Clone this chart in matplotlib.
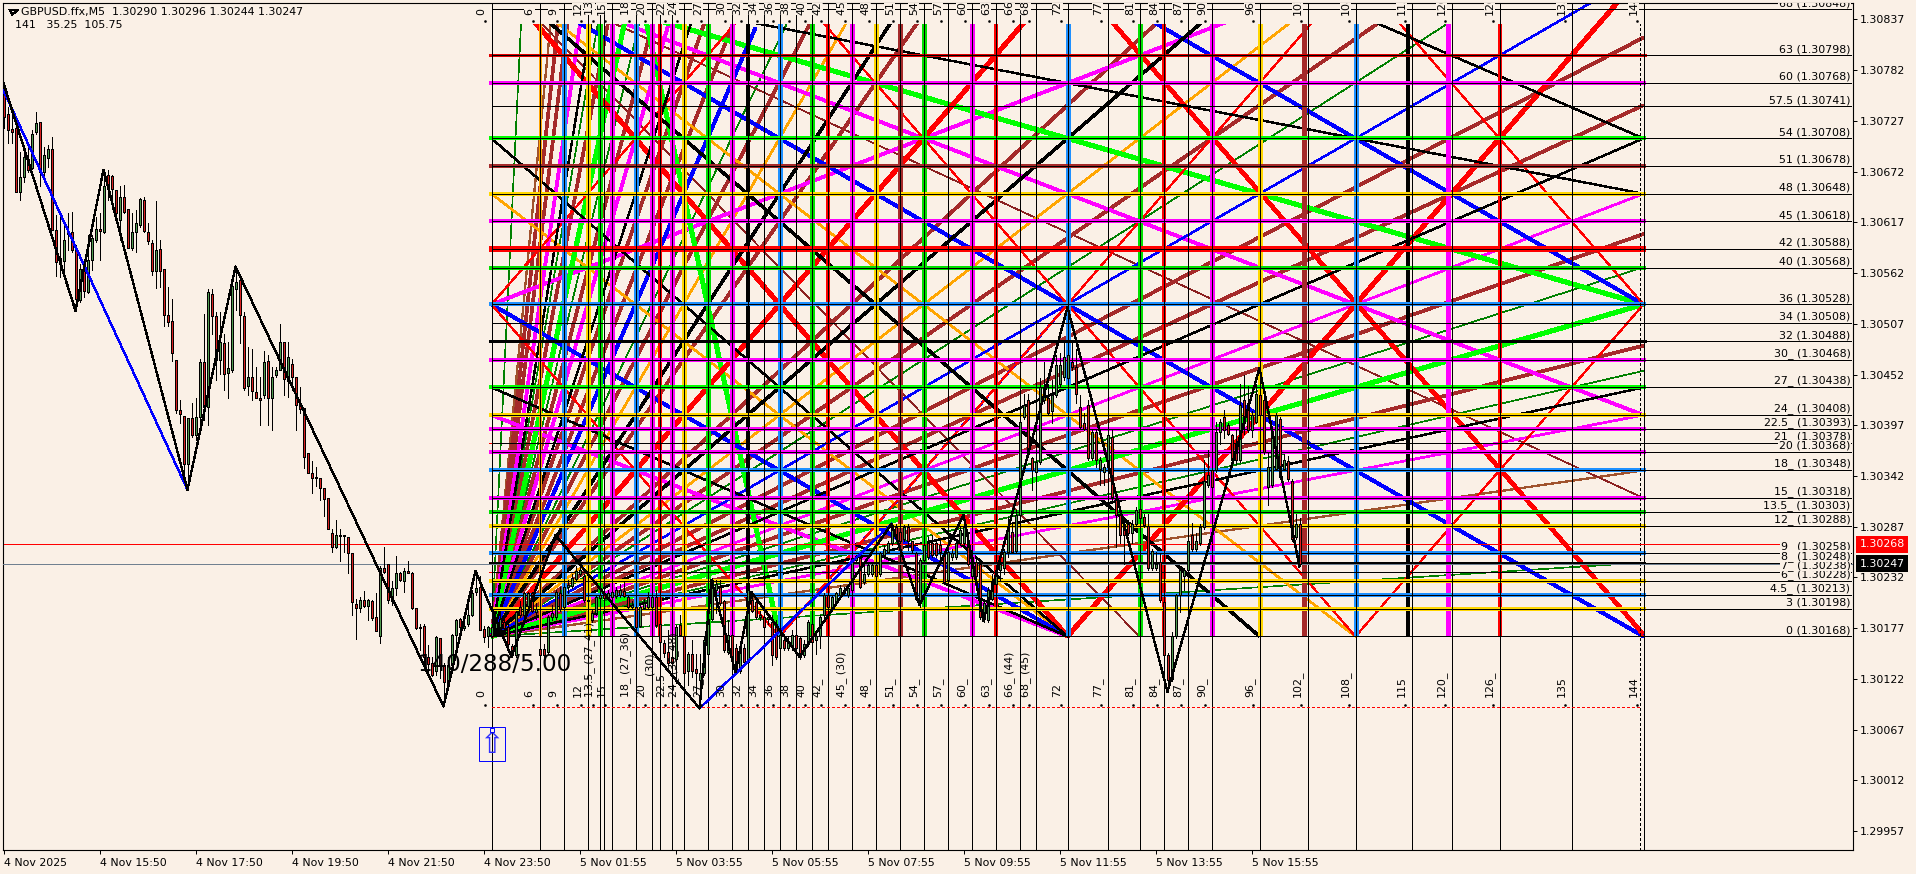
import numpy as np
import matplotlib
matplotlib.use('Agg')
import matplotlib.pyplot as plt
from matplotlib.patches import Rectangle

plt.rcParams['font.family'] = ['DejaVu Sans']
plt.rcParams['lines.antialiased'] = False

BG = '#FAF0E6'
FS = 7.9

# Candles, price in points above 1.30000
opens = [757,735,718,719,650,666,686,676,715,726,
         672,687,697,609,578,575,604,606,587,533,
         566,542,576,598,610,606,668,667,652,620,
         645,632,589,606,614,641,606,595,564,588,
         566,516,510,468,413,407,355,405,386,406,
         466,417,539,515,468,486,454,457,545,554,
         515,440,449,433,426,430,467,426,451,457,
         487,445,463,449,421,416,367,345,341,340,
         329,318,280,265,278,278,276,258,203,199,
         208,201,206,189,168,242,246,206,220,237,
         228,239,237,199,178,179,146,139,131,166,
         137,117,137,169,187,177,182,191,216,222,
         176,168,
         168,177,178,184,178,158,148,200,
         191,201,215,195,154,154,151,189,189,215,
         200,222,223,230,236,234,208,186,193,210,
         215,210,211,212,213,217,211,200,200,179,
         199,200,200,211,182,161,151,146,144,180,
         168,130,149,133,121,128,149,187,218,222,
         206,151,169,155,130,155,140,207,205,189,
         189,187,184,182,155,164,155,157,169,166,
         148,160,182,164,168,191,213,198,204,213,
         218,213,218,251,253,227,236,236,245,236,
         256,260,269,287,281,274,287,271,258,206,
         251,269,269,269,267,258,229,254,254,269,
         269,269,233,249,247,187,186,209,225,240,
         242,260,281,261,300,406,424,361,346,357,
         424,426,412,430,442,449,448,466,460,417,
         399,419,361,390,350,346,352,384,318,300,
         290,290,280,290,306,297,288,242,242,249,
         205,148,122,168,213,234,240,278,263,269,
         287,332,348,348,390,406,397,386,377,359,
         424,421,392,401,430,424,330,332,350,404,
         350,358,337,276,290]
closes = [731,717,715,650,666,688,674,713,725,672,
          690,696,609,574,575,598,606,587,534,566,
          543,576,600,610,608,656,654,653,627,645,
          628,589,607,616,642,608,597,564,587,564,
          516,509,475,413,409,355,405,386,406,466,
          417,541,515,468,487,453,459,548,552,516,
          437,449,434,427,424,466,426,449,457,487,
          447,471,449,419,415,363,345,340,340,329,
          317,285,265,278,277,277,258,205,199,208,
          201,207,188,174,242,238,207,220,237,229,
          239,237,199,177,177,146,138,126,167,137,
          119,137,170,186,178,179,191,215,221,175,
          167,178,
          178,186,187,177,160,148,195,191,
          215,215,196,198,148,148,189,193,216,198,
          222,224,231,239,240,207,206,193,211,213,
          210,215,216,218,218,212,200,202,178,200,
          204,211,211,180,162,150,139,139,178,169,
          128,149,130,128,128,164,187,229,225,204,
          153,169,142,129,155,140,218,196,189,191,
          178,189,148,146,169,155,162,169,155,146,
          160,184,162,168,189,213,200,211,215,221,
          215,220,253,254,222,236,245,245,234,258,
          263,269,289,276,272,287,271,262,209,251,
          267,254,256,256,260,227,260,258,269,283,
          287,247,254,233,189,204,218,227,240,247,
          260,285,260,300,401,419,366,348,357,439,
          437,410,430,462,462,471,473,460,431,395,
          393,361,390,359,359,352,386,319,300,278,
          278,280,290,305,296,289,242,261,247,207,
          148,121,168,213,240,240,271,263,271,287,
          337,343,330,390,401,392,388,359,359,419,
          399,392,408,431,408,368,352,388,408,341,
          359,339,274,290,247]
highs = [768,742,735,721,693,693,699,717,737,726,
         699,701,710,625,623,618,627,628,592,572,
         576,603,603,623,627,674,674,668,652,656,
         657,632,627,630,643,645,616,598,640,598,
         566,547,534,468,424,407,405,421,426,469,
         518,545,545,520,520,496,487,551,569,558,
         520,482,480,460,449,478,473,460,460,507,
         487,487,469,449,439,416,367,358,352,340,
         329,318,285,294,284,278,276,258,209,211,
         217,209,208,215,244,265,246,228,255,238,
         242,250,238,199,181,181,159,146,168,166,
         139,146,171,187,188,188,202,218,238,233,
         179,179,
         184,189,193,189,182,160,196,206,
         216,216,216,204,178,160,191,202,218,222,
         229,229,236,244,251,236,215,197,213,216,
         216,218,220,222,225,227,213,206,207,202,
         209,216,215,218,193,164,175,153,180,191,
         169,151,164,149,149,168,218,231,229,229,
         207,186,175,160,158,160,229,216,209,196,
         193,193,191,186,175,169,168,175,173,168,
         164,186,193,175,191,215,215,213,216,224,
         222,222,254,256,254,245,249,247,247,260,
         267,271,290,290,283,289,290,272,260,253,
         269,276,278,274,274,260,262,263,274,287,
         298,280,263,252,251,205,222,236,243,254,
         263,298,290,305,408,431,431,363,370,448,
         466,442,446,473,475,486,486,486,480,430,
         410,424,393,393,363,355,392,392,319,301,
         294,294,294,308,308,301,301,263,260,258,
         207,150,173,214,243,242,274,291,280,290,
         359,370,350,401,404,413,399,388,393,442,
         451,440,412,442,459,428,368,390,410,406,
         366,364,339,301,296]
lows = [719,703,703,650,641,661,672,675,713,656,
        665,677,609,559,558,556,587,585,522,531,
        536,540,565,596,576,605,641,632,623,598,
        627,589,587,585,612,607,594,560,546,547,
        505,505,467,410,399,345,328,384,381,397,
        403,397,496,446,453,435,426,455,522,486,
        435,430,424,426,397,426,397,392,449,457,
        430,428,435,392,410,351,345,324,331,316,
        299,284,260,264,250,260,237,191,165,195,
        200,186,186,174,161,237,204,202,213,228,
        216,237,198,176,153,135,128,125,126,123,
        94,115,134,159,166,175,179,190,213,175,
        162,157,
        168,168,175,171,153,146,146,189,
        189,195,195,187,148,146,149,186,187,196,
        198,215,221,229,233,205,186,184,191,202,
        207,207,210,210,211,211,198,198,177,178,
        198,198,198,178,160,146,137,135,117,168,
        106,115,124,106,90,126,148,186,193,202,
        151,149,131,128,128,139,139,195,187,186,
        168,182,137,144,153,153,153,153,153,144,
        146,158,160,149,155,189,193,196,202,211,
        213,211,216,249,220,225,233,234,227,234,
        254,258,267,274,269,271,262,260,207,200,
        249,252,254,254,252,225,211,251,252,267,
        267,245,229,218,187,184,184,207,214,229,
        236,254,258,258,298,404,365,327,337,355,
        421,408,399,428,439,446,421,457,421,393,
        392,359,359,352,332,332,330,316,265,269,
        247,278,269,289,287,287,240,240,240,205,
        124,108,120,166,195,218,231,261,261,267,
        285,330,328,346,377,383,386,357,355,357,
        388,390,384,399,406,366,310,330,348,339,
        348,337,272,274,244]

# Zigzags, (bar, points)
zigzag_bars = [0,18,25,46,58,110,118,127,138,174,177,183,187,199,222,229,240,245,266,291,314,324]
zigzag_pts = [768,521,674,327,569,92,239,146,278,90,229,129,216,146,290,202,300,185,525,108,459,244]
blue_bars_a = [0,46]
blue_pts_a = [760,327]
blue_bars_b = [174,222]
blue_pts_b = [90,290]

title_text = 'GBPUSD.ffx,M5  1.30290 1.30296 1.30244 1.30247'
info_text = '141   35.25  105.75'

y_ticks = [1.30837,1.30782,1.30727,1.30672,1.30617,1.30562,1.30507,1.30452,1.30397,
           1.30342,1.30287,1.30232,1.30177,1.30122,1.30067,1.30012,1.29957]
time_bars = [0,24,48,72,96,120,144,168,192,216,240,264,288,312]
time_labels = ['4 Nov 2025','4 Nov 15:50','4 Nov 17:50','4 Nov 19:50','4 Nov 21:50','4 Nov 23:50',
               '5 Nov 01:55','5 Nov 03:55','5 Nov 05:55','5 Nov 07:55','5 Nov 09:55','5 Nov 11:55',
               '5 Nov 13:55','5 Nov 15:55']

# Price levels of the box
level_vals = [0,3,4.5,6,7,8,9,12,13.5,15,18,20,21,22.5,24,27,30,32,34,36,40,42,45,48,51,54,57.5,60,63,68]
level_names = ['0','3','4.5_','6_','7_','8_','9_','12_','13.5_','15_','18_','20','21_','22.5_','24_',
               '27_','30_','32','34','36','40','42','45','48','51','54','57.5','60','63','68']
level_prices = [1.30168,1.30198,1.30213,1.30228,1.30238,1.30248,1.30258,1.30288,1.30303,1.30318,
                1.30348,1.30368,1.30378,1.30393,1.30408,1.30438,1.30468,1.30488,1.30508,1.30528,
                1.30568,1.30588,1.30618,1.30648,1.30678,1.30708,1.30741,1.30768,1.30798,1.30848]
level_colors = {3:'#FFD700',4.5:'#1E90FF',6:'#FFD700',7:'#FF0000',8:'#000000',9:'#1E90FF',12:'#FFD700',
                13.5:'#00E000',15:'#FF00FF',18:'#1E90FF',20:'#FF00FF',21:'#FF0000',22.5:'#FF00FF',
                24:'#FFD700',27:'#00FF00',30:'#FF00FF',32:'#000000',36:'#1E90FF',40:'#00E000',
                42:'#FF0000',45:'#FF00FF',48:'#FFD700',51:'#A52A2A',54:'#00FF00',60:'#FF00FF',63:'#E00000'}
level_widths = {7:0.7,8:1.1,15:1.5,20:1.5,21:0.6,22.5:1.5,30:1.5,32:1.0,42:3.2,45:1.5,60:1.5,63:0.9}

# Time columns of the box
col_vals = [0,6,9,12,13.5,14,15,18,20,21,22.5,24,27,30,32,34,36,38,40,42,45,48,51,54,57,60,63,66,68,
            72,77,81,84,87,90,96,102,108,115,120,126,135,144]
col_names = {0:'0',6:'6',9:'9',12:'12',13.5:'13.5_ (27_41)',15:'15',18:'18_ (27_36)',20:'20',22.5:'22.5',
             24:'24_ (36_48)',27:'27_',30:'30',32:'32',34:'34',36:'36',38:'38',40:'40',42:'42_',
             45:'45_ (30)',48:'48_',51:'51_',54:'54_',57:'57_',60:'60_',63:'63_',66:'66_ (44)',
             68:'68_ (45)',72:'72',77:'77_',81:'81_',84:'84_',87:'87_',90:'90_',96:'96_',102:'102_',
             108:'108_',115:'115',120:'120_',126:'126_',135:'135',144:'144'}
col_colors = [(6,'#FFA500',0.8),(9,'#1E90FF',2.4),(12,'#FFD700',2.4),(13.5,'#00E000',2.4),(15,'#FF00FF',2.4),
              (18,'#1E90FF',2.4),(20,'#FF00FF',2.4),(21,'#FF0000',2.6),(22.5,'#FF00FF',2.4),(24,'#FFD700',2.4),
              (27,'#00E000',2.4),(30,'#FF00FF',2.4),(32,'#000000',2.8),(36,'#1E90FF',2.4),(40,'#00E000',2.4),
              (42,'#FF0000',2.6),(45,'#FF00FF',2.4),(48,'#FFD700',2.4),(51,'#A52A2A',2.4),(54,'#00E000',2.4),
              (60,'#FF00FF',2.4),(63,'#FF0000',2.6),(72,'#1E90FF',2.4),(81,'#00E000',2.4),(84,'#FF0000',2.6),
              (90,'#FF00FF',2.4),(96,'#FFD700',2.4),(101.6,'#A52A2A',2.4),(108,'#1E90FF',2.4),(114.5,'#000000',2.8),
              (119.6,'#FF00FF',2.4),(126,'#FF0000',2.6)]

# Rays from the lower left corner, as level per column
ratios_brown = [0.219,0.303,0.4,0.451,0.6,0.8,1.25,1.67,2.2,2.5,3.3,4.57,7.0,8.0]
ratios_sienna = [0.125,9.0]
ratios_green = [0.0556,0.2,0.278,0.556,1.8,3.6,5.0,18.0]

# Other diagonals, (col0, level0, col1, level1)
seg_red_thick = [(0,72,72,0),(0,0,72,72)]
seg_red_thin = [(36,0,108,72),(108,0,36,72),(0,36,36,72),(0,36,36,0),(108,0,144,36),(144,36,108,72),
                (144,0.4,76,68.4),(144,0,76,68)]
seg_blue_thick = [(0,72,144,0),(0,36,72,0),(72,72,144,36),(0,0,33,66)]
seg_blue_thin = [(36,0,72,36)]
seg_lime = [(0,72,144,36),(0,0,144,36),(0,0,18,72),(36,0,18,72)]
seg_magenta_thick = [(0,72,144,24),(0,36,108,72),(0,0,24,72),(0,0,12,72),(0,24,72,0)]
seg_magenta_thin = [(0,0,144,48),(0,0,144,24)]
seg_black_thick = [(0,72,96,0),(0,0,96,72),(0,0,54,72)]
seg_black_med = [(0,54,72,0),(0,27,72,0),(0,72,144,48),(0,108,144,54),(0,0,144,54),(0,0,144,27),
                 (0,0,27,72),(0,0,13.5,72)]
seg_orange = [(0,72,108,0),(0,48,72,0),(0,0,108,72),(0,0,48,72)]
seg_maroon = [(0,72.6,144,15),(0,72,81,0)]
seg_free = [(72,0,144,72),(0,0,144,72)]


def ux(col):
    return 122 + 2 * np.asarray(col, dtype=float)


def lp(level):
    return 1.30168 + np.asarray(level, dtype=float) * 1e-4


def pts(values):
    return 1.3 + np.asarray(values, dtype=float) / 1e5


fig = plt.figure(figsize=(19.16, 8.74), dpi=100, facecolor=BG)
ax = fig.add_axes([2.5 / 1916, 24 / 874, 1850 / 1916, 847.5 / 874], facecolor=BG)
ax.set_xlim(-0.25, 462.25)
ax.set_ylim(1.299364, 1.308554)

band = Rectangle((-1, lp(-0.5)), 470, lp(66.4) - lp(-0.5), transform=ax.transData)


def draw_segs(segs, color, lw, clip=True, z=2):
    for c0, l0, c1, l1 in segs:
        line, = ax.plot(ux([c0, c1]), lp([l0, l1]), color=color, lw=lw, zorder=z, solid_capstyle='butt')
        if clip:
            line.set_clip_path(band)


def draw_rays(ratios, color, lw):
    segs = []
    for r in ratios:
        end = min(144, 80 / r)
        segs.append((0, 0, end, r * end))
    draw_segs(segs, color, lw)


# fans
draw_rays(ratios_green, '#008000', 0.45)
draw_rays(ratios_sienna, '#A0522D', 0.9)
draw_segs(seg_maroon, '#8B2020', 0.45)
draw_rays(ratios_brown, '#A52A2A', 1.9)
draw_segs(seg_orange, '#FFA500', 1.1)
draw_segs(seg_magenta_thin, '#FF00FF', 1.2)
draw_segs(seg_magenta_thick, '#FF00FF', 2.0)
draw_segs(seg_lime, '#00FF00', 2.9)
draw_segs(seg_blue_thin, '#0000FF', 1.0)
draw_segs(seg_blue_thick, '#0000FF', 2.1)
draw_segs(seg_free[1:], '#0000FF', 1.0, clip=False)
draw_segs(seg_red_thin, '#FF0000', 0.8)
draw_segs(seg_red_thick, '#FF0000', 2.8)
draw_segs(seg_free[:1], '#FF0000', 2.8, clip=False)
draw_segs(seg_black_med, '#000000', 1.0)
draw_segs(seg_black_thick, '#000000', 1.7)

# coloured columns and levels
for col, color, lw in col_colors:
    ax.plot([ux(col), ux(col)], [lp(0), lp(66.4)], color=color, lw=lw, zorder=3, solid_capstyle='butt')
for lev, color in level_colors.items():
    ax.plot([ux(-0.3), ux(144.3)], [lp(lev), lp(lev)], color=color, lw=level_widths.get(lev, 2.6),
            zorder=3, solid_capstyle='butt')

# thin black grid of the box
for col in col_vals:
    ax.axvline(ux(col), color='black', lw=0.6, zorder=4)
ax.plot([ux(143.5), ux(143.5)], [1.299364, lp(66.4)], color='black', lw=0.6, ls=(0, (3, 3)), zorder=4)
for lev in level_vals:
    ax.plot([ux(0), 461.8], [lp(lev), lp(lev)], color='black', lw=0.6, zorder=4)

# price lines
ax.axhline(1.30247, color='#708090', lw=0.6, zorder=4)
ax.plot([0, 461], [1.30268, 1.30268], color='#FF0000', lw=0.55, zorder=4)
ax.plot([ux(0), ux(143.5)], [1.30092, 1.30092], color='#FF0000', lw=0.6, ls=(0, (3, 3)), zorder=4)

# candles
o = pts(opens)
c = pts(closes)
h = pts(highs)
l = pts(lows)
bars = np.arange(len(opens))
ax.vlines(bars, l, h, color='black', lw=0.6, zorder=5, antialiased=False)
face = ['#4F9A4F' if ci >= oi else '#D82020' for oi, ci in zip(o, c)]
ax.bar(bars, np.abs(c - o), bottom=np.minimum(o, c), width=0.5, color=face, edgecolor='black',
       linewidth=0.6, zorder=5, antialiased=False)

# zigzags
ax.plot(blue_bars_a, pts(blue_pts_a), color='#0000FF', lw=0.95, zorder=6)
ax.plot(blue_bars_b, pts(blue_pts_b), color='#0000FF', lw=0.95, zorder=6)
ax.plot(zigzag_bars, pts(zigzag_pts), color='black', lw=0.95, zorder=6)

# level texts on the right
for lev, name, price in zip(level_vals, level_names, level_prices):
    z = 20 + lev if lev <= 8 else 19.9 - lev / 100
    ax.text(461.75, lp(lev) + 1.2e-5, f'{name} ({price:.5f})', ha='right', va='bottom', fontsize=FS,
            color='black', zorder=z, clip_on=True,
            bbox=dict(boxstyle='square,pad=0.06', fc=BG, ec='none'))

# column texts top and bottom
for col, name in col_names.items():
    xt = ux(col) - 2.5
    ax.text(xt, 1.308419, name, rotation=90, ha='center', va='bottom', fontsize=FS, color='black',
            zorder=8, clip_on=True, bbox=dict(boxstyle='square,pad=0.04', fc=BG, ec='none'))
    ax.text(xt, 1.301023, name, rotation=90, ha='center', va='bottom', fontsize=FS, color='black', zorder=8)
    ax.plot([ux(col) - 1.6] * 2, [1.308354, 1.300937], ls='none', marker='s', ms=0.8, color='black', zorder=8)
ax.text(ux(21) - 2.5, 1.301258, '(30)', rotation=90, ha='center', va='bottom', fontsize=FS, color='black', zorder=8)

ax.text(414 / 4, 1.30837 - (665 - 19.5) / 92216, '140/288/5.00', fontsize=16.6, color='black', va='center',
        ha='left', zorder=7)

# arrow object
ax.add_patch(Rectangle((118.75, pts(32.4)), 6.5, pts(69.3) - pts(32.4), fc='none', ec='#0000FF', lw=0.7, zorder=7))
ax.plot([122], [pts(67)], marker='s', ms=3.2, mfc=BG, mec='#0000FF', mew=0.7, zorder=8)
ax.text(122, pts(50), '\u21e7', color='#3030FF', fontsize=21, ha='center', va='center', zorder=7)

# header
fig.text(21 / 1916, 1 - 12.5 / 874, title_text, fontsize=FS, color='black', va='center')
fig.text(15 / 1916, 1 - 25.5 / 874, info_text, fontsize=FS, color='black', va='center')
ax.plot([6 / 4 + 0.1, 15 / 4 - 0.1, 10.5 / 4 - 0.5, 6 / 4 + 0.1],
        [1.30837 + 9.5 / 92216, 1.30837 + 9.5 / 92216, 1.30837 + 5 / 92216, 1.30837 + 9.5 / 92216],
        color='black', lw=1.0, zorder=9)

# axes
ax.yaxis.tick_right()
ax.set_yticks(y_ticks)
ax.set_yticklabels([f'{v:.5f}' for v in y_ticks], fontsize=FS)
ax.set_xticks(time_bars)
ax.set_xticklabels(time_labels, fontsize=FS, ha='left')
ax.tick_params(axis='both', length=3, width=0.72, color='black', pad=2)
ax.tick_params(axis='x', pad=3)
for spine in ax.spines.values():
    spine.set_linewidth(0.8)
    spine.set_color('black')

# current price boxes
ax.text(464, 1.30268, '1.30268', color='white', fontsize=FS, va='center', ha='left', clip_on=False, zorder=12,
        bbox=dict(boxstyle='square,pad=0.33', fc='#FF0000', ec='none'))
ax.text(464, 1.30247, '1.30247', color='white', fontsize=FS, va='center', ha='left', clip_on=False, zorder=12,
        bbox=dict(boxstyle='square,pad=0.33', fc='#000000', ec='none'))

fig.savefig('out.png', dpi=100, facecolor=BG)
